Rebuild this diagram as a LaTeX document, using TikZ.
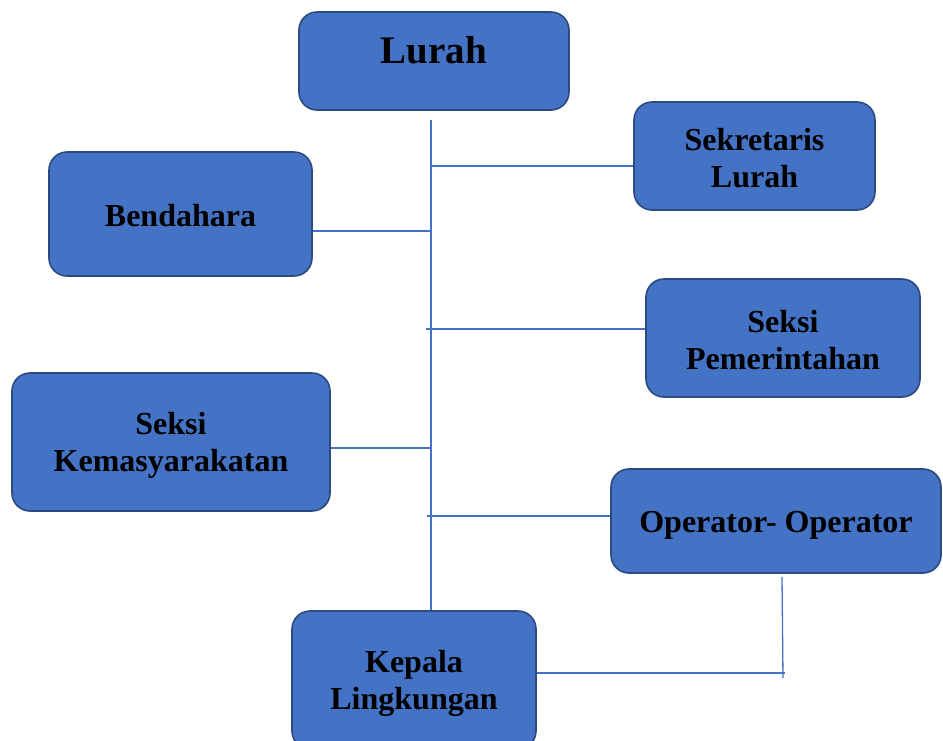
\documentclass[tikz,border=0pt]{standalone}
\usepackage{fontspec}
\setmainfont{Liberation Serif}
\definecolor{boxfill}{HTML}{4472C4}
\definecolor{boxline}{HTML}{2A4A80}
\definecolor{connc}{HTML}{4472C4}
\begin{document}
\begin{tikzpicture}[x=1pt,y=-1pt,
  box/.style={draw=boxline, line width=1.6pt, fill=boxfill, rounded corners=18pt, inner sep=0pt},
  boxtext/.style={font=\bfseries\fontsize{32}{37}\selectfont, align=center, inner sep=0pt},
  conn/.style={draw=connc, line width=1.3pt}]
\useasboundingbox (0,0) rectangle (943,740);
% boxes
\node[box, minimum width=270pt, minimum height=98pt] (lurah) at (434,61) {};
\node[box, minimum width=241pt, minimum height=108pt] (sek) at (754.5,156) {};
\node[box, minimum width=263pt, minimum height=124pt] (bend) at (180.5,214) {};
\node[box, minimum width=274pt, minimum height=118pt] (pem) at (783,338) {};
\node[box, minimum width=318pt, minimum height=138pt] (kem) at (171,442) {};
\node[box, minimum width=330pt, minimum height=104pt] (op) at (776,521) {};
\node[box, minimum width=244pt, minimum height=138pt] (kep) at (414,680) {};
% texts
\node[anchor=base, font=\bfseries\fontsize{39}{45}\selectfont] (lurahtxt) at (434,63) {Lurah};
\node[boxtext] (sektxt) at ([yshift=-2pt]sek.center) {Sekretaris\\Lurah};
\node[boxtext] (bendtxt) at ([yshift=-2pt]bend.center) {Bendahara};
\node[boxtext] (pemtxt) at ([yshift=-2pt]pem.center) {Seksi\\Pemerintahan};
\node[boxtext] (kemtxt) at ([yshift=-3pt]kem.center) {Seksi\\Kemasyarakatan};
\node[boxtext] (optxt) at ([yshift=-4pt]op.center) {Operator- Operator};
\node[boxtext] (keptxt) at ([yshift=-3pt]kep.center) {Kepala\\Lingkungan};
% trunk
\coordinate (t0) at (431,120);
\draw[conn] (t0) -- (t0 |- kep.north);
\coordinate (js) at (431,166);
\draw[conn] (js) -- (js -| sek.west);
\coordinate (jb) at (431,231);
\draw[conn] (jb) -- (jb -| bend.east);
\coordinate (jp) at (426,329);
\draw[conn] (jp) -- (jp -| pem.west);
\coordinate (jk) at (431,448);
\draw[conn] (jk) -- (jk -| kem.east);
\coordinate (jo) at (427,516);
\draw[conn] (jo) -- (jo -| op.west);
% operator to kepala
\coordinate (ob) at (782,577);
\coordinate (oe) at (783,678);
\draw[conn] (ob) -- (oe);
\coordinate (oc) at (785,673);
\draw[conn] (oc -| kep.east) -- (oc);
\end{tikzpicture}
\end{document}
